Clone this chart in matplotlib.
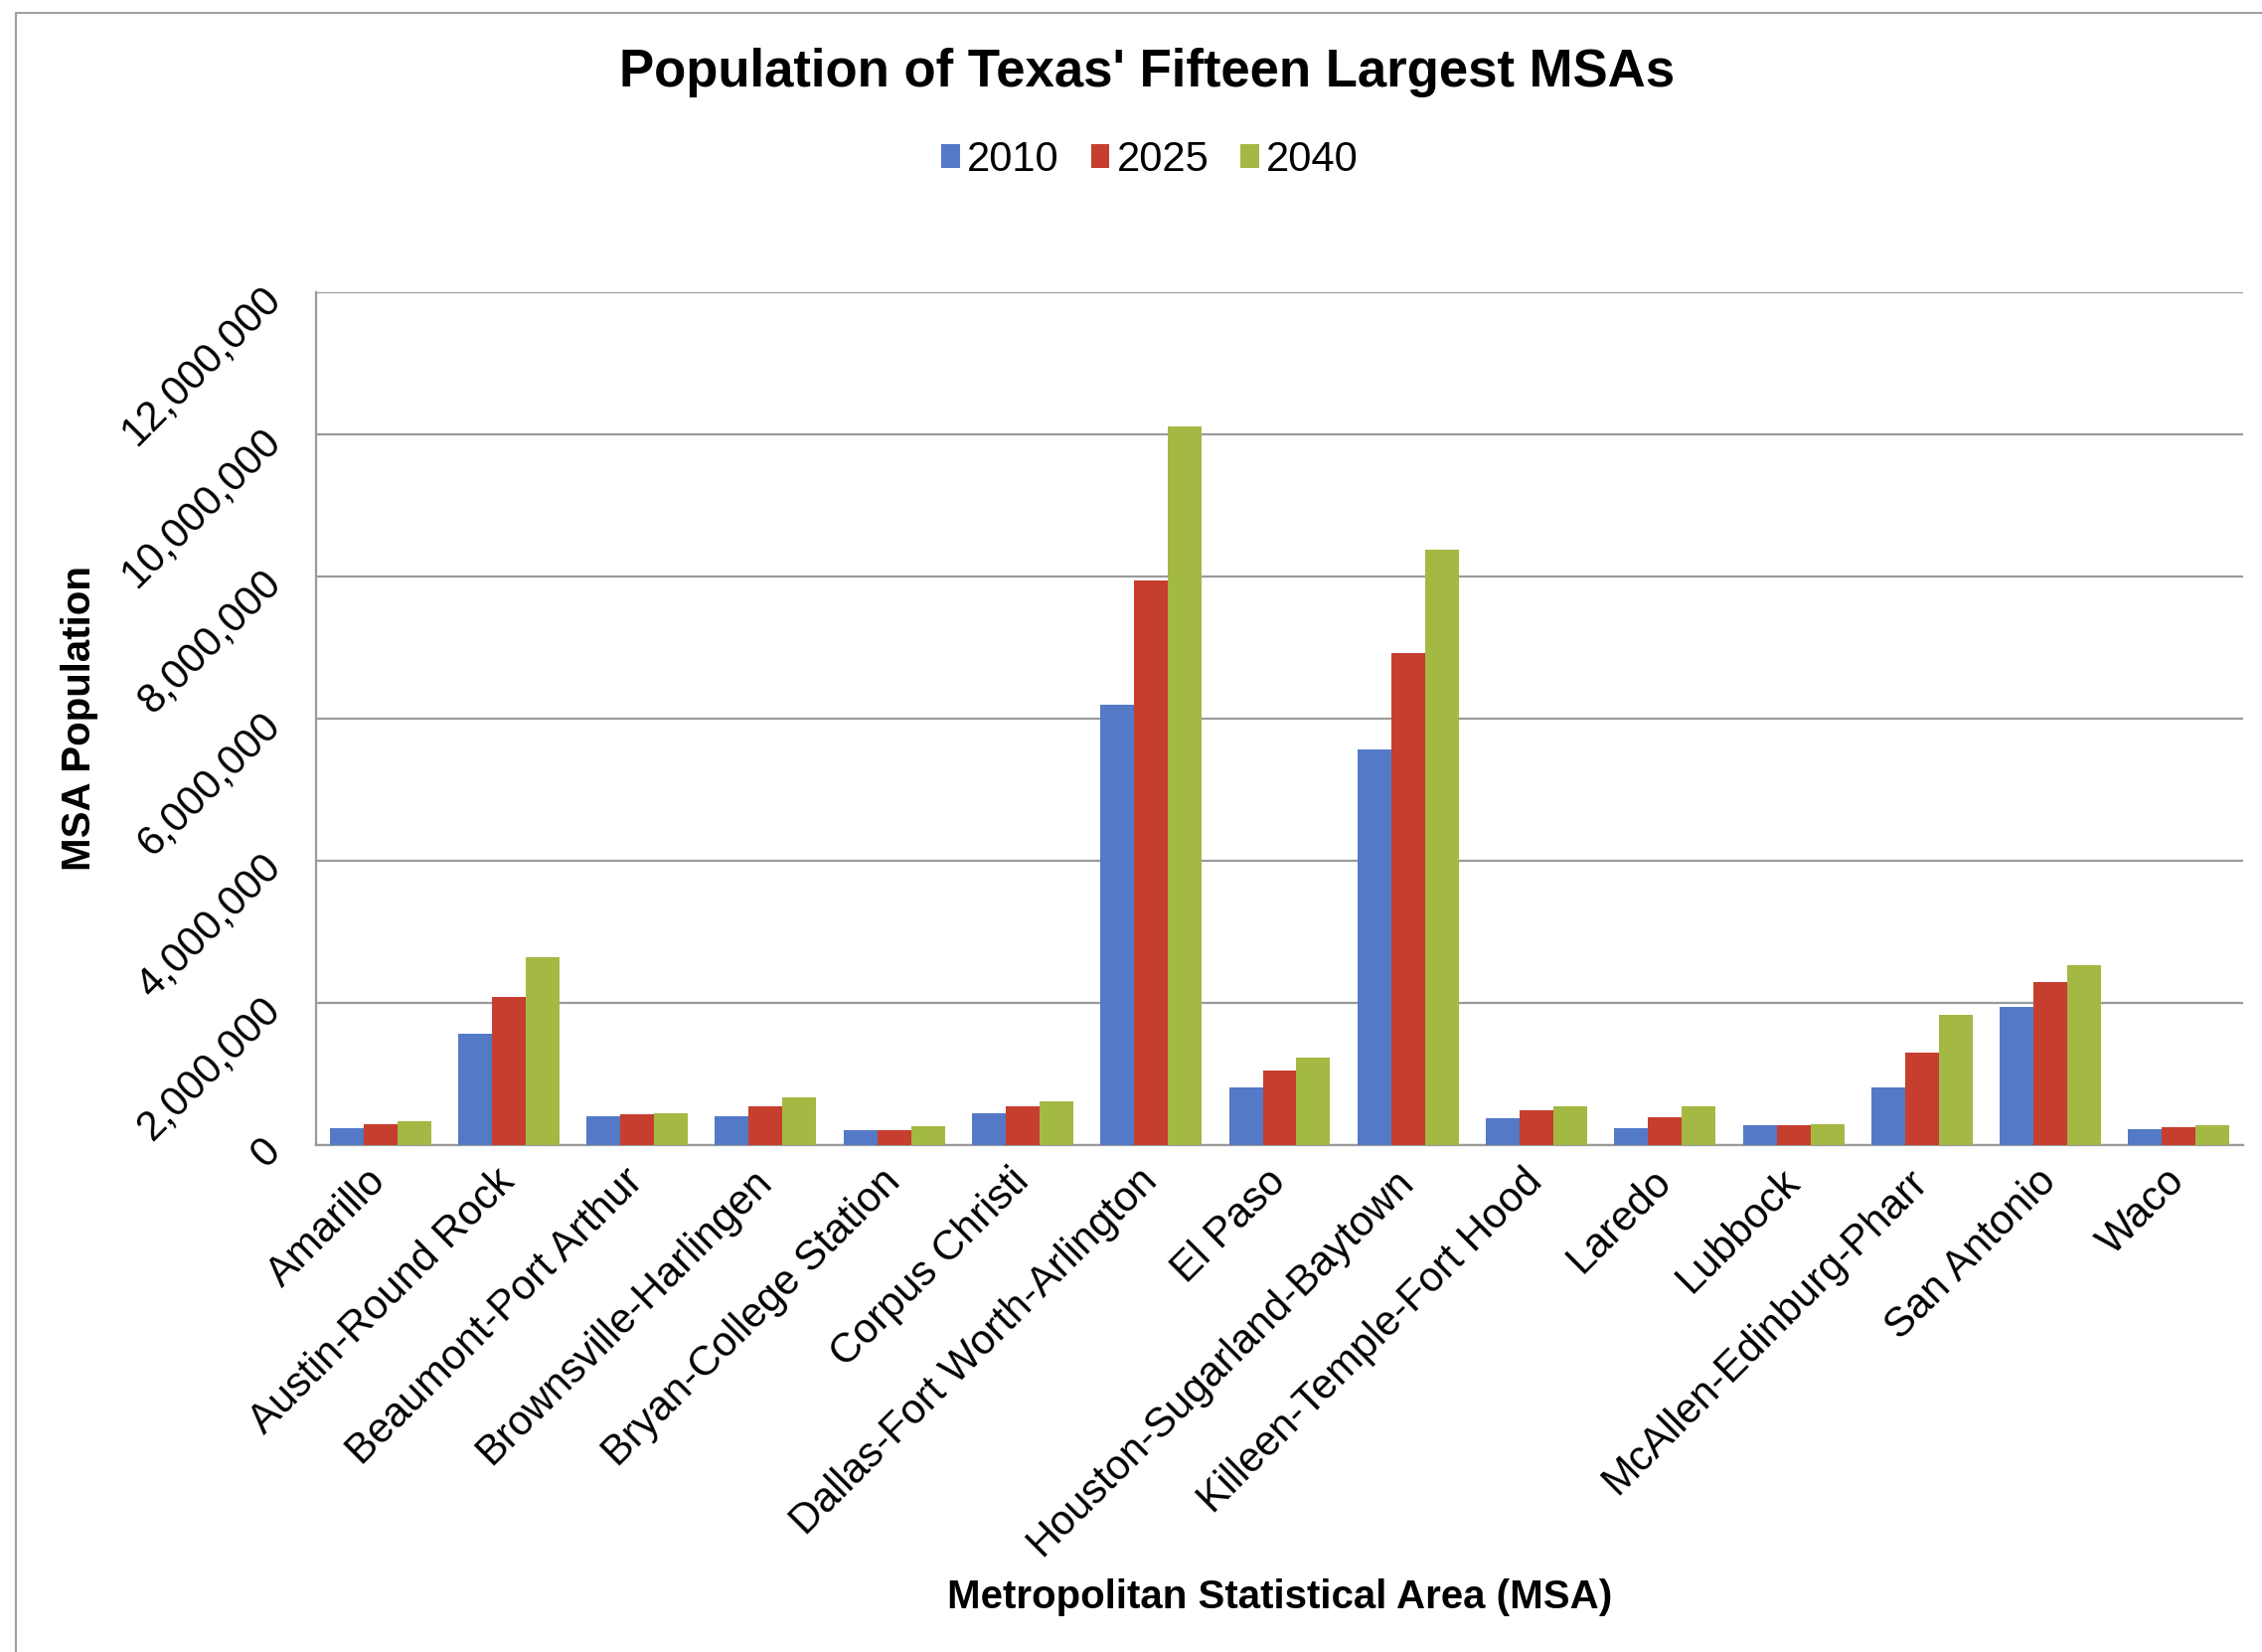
import numpy as np
import matplotlib
matplotlib.use('Agg')
import matplotlib.pyplot as plt
from matplotlib.patches import Rectangle

plt.rcParams['font.family'] = ['Liberation Sans', 'DejaVu Sans']

# MSA names and populations
msas = [
    'Amarillo', 'Austin-Round Rock', 'Beaumont-Port Arthur',
    'Brownsville-Harlingen', 'Bryan-College Station', 'Corpus Christi',
    'Dallas-Fort Worth-Arlington', 'El Paso', 'Houston-Sugarland-Baytown',
    'Killeen-Temple-Fort Hood', 'Laredo', 'Lubbock', 'McAllen-Edinburg-Pharr',
    'San Antonio', 'Waco'
]
pop_2010 = [240000, 1560000, 400000, 400000, 215000, 450000, 6200000, 810000,
            5560000, 380000, 240000, 280000, 810000, 1940000, 220000]
pop_2025 = [300000, 2090000, 430000, 540000, 215000, 540000, 7950000, 1050000,
            6920000, 490000, 390000, 280000, 1300000, 2290000, 250000]
pop_2040 = [330000, 2650000, 450000, 675000, 270000, 620000, 10110000, 1230000,
            8380000, 540000, 540000, 300000, 1830000, 2530000, 280000]
years = ['2010', '2025', '2040']
colors = ['#5479C7', '#C63E2E', '#A3B943']

W, H = 2276, 1662
fig = plt.figure(figsize=(W / 100, H / 100), dpi=100)
fig.patch.set_facecolor('white')

# axes box in pixel coords of the reference
left, right, top, bottom = 318, 2257, 294, 1152
ax = fig.add_axes([left / W, 1 - bottom / H, (right - left) / W, (bottom - top) / H])

x = np.arange(len(msas))
bw = 0.263
series = [pop_2010, pop_2025, pop_2040]
handles = []
for i, (vals, c) in enumerate(zip(series, colors)):
    b = ax.bar(x + (i - 1) * bw, vals, width=bw, color=c, label=years[i],
               zorder=3, linewidth=0)
    handles.append(b)

ax.set_xlim(-0.5, len(msas) - 0.5)
ax.set_ylim(0, 12000000)
yt = np.arange(0, 12000001, 2000000)
ax.set_yticks(yt)
ax.set_yticklabels(['{:,}'.format(v) for v in yt], rotation=45, ha='right',
                   va='center', rotation_mode='anchor', fontsize=30)
ax.tick_params(axis='y', length=0, pad=30)
ax.grid(axis='y', color='#9a9a9a', linewidth=1.6, zorder=0)

ax.set_xticks(x)
ax.set_xticklabels(msas, rotation=45, ha='right', va='center',
                   rotation_mode='anchor', fontsize=30)
ax.tick_params(axis='x', length=0, pad=22)

for s in ['top', 'right']:
    ax.spines[s].set_visible(False)
for s in ['left', 'bottom']:
    ax.spines[s].set_color('#9a9a9a')
    ax.spines[s].set_linewidth(1.6)

fig.text(80 / W, 1 - 723 / H, 'MSA Population', rotation=90, ha='center',
         va='center', fontsize=29, fontweight='bold')
fig.text(1288 / W, 1 - 1607 / H, 'Metropolitan Statistical Area (MSA)',
         ha='center', va='center', fontsize=29, fontweight='bold')
fig.text(1154 / W, 1 - 73 / H, "Population of Texas' Fifteen Largest MSAs",
         ha='center', va='center', fontsize=38, fontweight='bold')

fig.legend(handles=handles, labels=years, loc='center',
           bbox_to_anchor=(1157 / W, 1 - 161 / H), ncol=3, frameon=False,
           fontsize=30, handlelength=0.45, handleheight=0.5,
           handletextpad=0.17, columnspacing=0.77)

# outer chart border
fig.patches.append(Rectangle((16 / W, -0.01), 1.0, 1 - 13 / H + 0.01,
                             transform=fig.transFigure, fill=False,
                             edgecolor='#a0a0a0', linewidth=1.5))

fig.savefig('out.png', dpi=100)
